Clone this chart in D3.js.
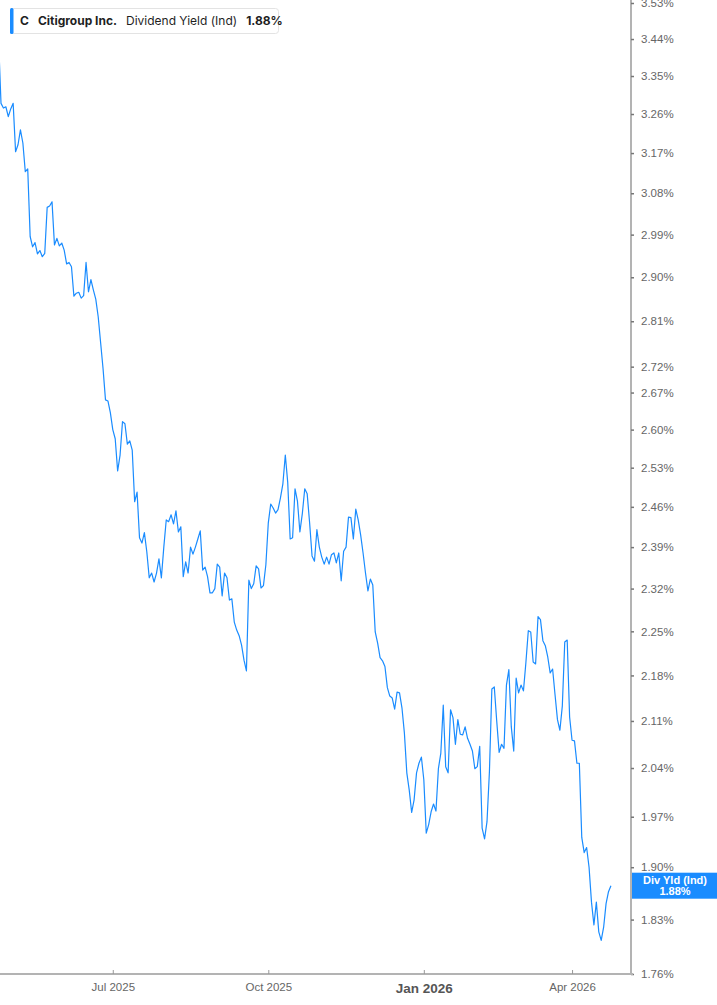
<!DOCTYPE html>
<html lang="en">
  <head>
    <meta charset="UTF-8" />
    <title>Citigroup Dividend Yield</title>
    <script src="https://d3js.org/d3.v7.min.js"></script>
    <style>
      body { margin: 0; background: #fff; }
    </style>
  </head>
  <body></body>
  <script>
    var ticker = "C";
    var company = "Citigroup Inc.";
    var metric = "Dividend Yield (Ind)";
    var badgeTitle = "Div Yld (Ind)";

    // trading days start here, weekends and these market holidays are skipped
    var startDate = "2025-04-23";
    var holidays = [
      "2025-05-26", "2025-06-19", "2025-07-04", "2025-09-01", "2025-11-27",
      "2025-12-25", "2026-01-01", "2026-01-19", "2026-02-16", "2026-04-03"
    ];

    // dividend yield (%) one value per trading day
    var yieldValues = [
      3.438,
      3.285, 3.274, 3.277, 3.254, 3.272, 3.285, 3.173, 3.189, 3.223, 3.193,
      3.128, 3.134, 2.986, 2.964, 2.973, 2.949, 2.956, 2.943, 2.950, 3.049,
      3.052, 3.061, 2.968, 2.982, 2.966, 2.972, 2.957, 2.928, 2.931, 2.922,
      2.861, 2.867, 2.869, 2.857, 2.862, 2.931, 2.870, 2.895, 2.874, 2.855,
      2.819, 2.767, 2.716, 2.656, 2.654, 2.632, 2.600, 2.583, 2.524, 2.553,
      2.615, 2.611, 2.573, 2.579, 2.562, 2.469, 2.486, 2.406, 2.397, 2.415,
      2.382, 2.338, 2.346, 2.331, 2.346, 2.370, 2.338, 2.390, 2.437, 2.434,
      2.446, 2.430, 2.453, 2.416, 2.425, 2.340, 2.365, 2.346, 2.390, 2.378,
      2.390, 2.404, 2.418, 2.351, 2.356, 2.340, 2.313, 2.313, 2.320, 2.361,
      2.356, 2.308, 2.346, 2.338, 2.301, 2.303, 2.265, 2.252, 2.243, 2.228,
      2.204, 2.187, 2.334, 2.320, 2.328, 2.358, 2.353, 2.321, 2.325, 2.360,
      2.432, 2.465, 2.458, 2.449, 2.455, 2.476, 2.501, 2.553, 2.503, 2.404,
      2.406, 2.492, 2.470, 2.416, 2.448, 2.492, 2.483, 2.432, 2.375, 2.366,
      2.420, 2.390, 2.373, 2.361, 2.373, 2.361, 2.377, 2.380, 2.363, 2.380,
      2.333, 2.383, 2.390, 2.442, 2.441, 2.404, 2.456, 2.437, 2.411, 2.380,
      2.346, 2.316, 2.336, 2.326, 2.249, 2.231, 2.208, 2.203, 2.194, 2.161,
      2.148, 2.145, 2.128, 2.154, 2.153, 2.130, 2.092, 2.033, 2.008, 1.976,
      1.994, 2.033, 2.047, 2.056, 2.023, 1.947, 1.959, 1.977, 1.988, 1.978,
      2.039, 2.062, 2.134, 2.042, 2.033, 2.127, 2.115, 2.075, 2.112, 2.090,
      2.089, 2.101, 2.084, 2.075, 2.065, 2.039, 2.042, 2.072, 1.954, 1.939,
      1.963, 2.035, 2.159, 2.162, 2.110, 2.063, 2.075, 2.069, 2.165, 2.189,
      2.101, 2.065, 2.176, 2.153, 2.165, 2.156, 2.200, 2.251, 2.249, 2.201,
      2.198, 2.274, 2.269, 2.235, 2.227, 2.209, 2.184, 2.190, 2.150, 2.112,
      2.096, 2.133, 2.233, 2.236, 2.116, 2.081, 2.080, 2.047, 2.047, 1.941,
      1.920, 1.927, 1.900, 1.853, 1.823, 1.853, 1.814, 1.803, 1.820, 1.851,
      1.867, 1.875
    ];

    var yTickValues = [
      3.53, 3.44, 3.35, 3.26, 3.17, 3.08, 2.99, 2.90, 2.81, 2.72, 2.67, 2.60,
      2.53, 2.46, 2.39, 2.32, 2.25, 2.18, 2.11, 2.04, 1.97, 1.90, 1.83, 1.76
    ];
    var xTickDates = ["2025-07-01", "2025-10-01", "2026-01-02", "2026-04-01"];
    var xTickLabels = ["Jul 2025", "Oct 2025", "Jan 2026", "Apr 2026"];

    var width = 717, height = 1005;
    var plotRight = 631, plotBottom = 974;
    var blue = "#1a8cff";

    // build trading calendar
    var fmt = d3.utcFormat("%Y-%m-%d");
    var tradingDays = [];
    var day = new Date(startDate + "T00:00:00Z");
    while (tradingDays.length < yieldValues.length) {
      var wd = day.getUTCDay();
      if (wd !== 0 && wd !== 6 && holidays.indexOf(fmt(day)) < 0) {
        tradingDays.push(fmt(day));
      }
      day = d3.utcDay.offset(day, 1);
    }
    var data = yieldValues.map((v, i) => ({ date: tradingDays[i], idx: i, value: v }));

    // month ticks sit on the first trading day of the month
    var tickIdx = xTickDates.map(d => tradingDays.indexOf(d));

    // x runs on trading-day index, first day is just left of the plot edge
    var x = d3.scaleLinear().domain([0.588, 260.26]).range([0, plotRight]);
    var y = d3.scaleLog().domain([1.76, 3.53]).range([plotBottom, 3]);

    var svg = d3
      .select("body")
      .append("svg")
      .attr("width", width)
      .attr("height", height)
      .style("font-family", "'Liberation Sans', Arial, sans-serif");

    svg
      .append("defs")
      .append("clipPath")
      .attr("id", "plot-clip")
      .append("rect")
      .attr("x", 0)
      .attr("y", 0)
      .attr("width", plotRight)
      .attr("height", plotBottom);

    var line = d3
      .line()
      .x(d => x(d.idx))
      .y(d => y(d.value));

    svg
      .append("path")
      .datum(data)
      .attr("clip-path", "url(#plot-clip)")
      .attr("fill", "none")
      .attr("stroke", blue)
      .attr("stroke-width", 1.2)
      .attr("stroke-linejoin", "round")
      .attr("d", line);

    // right axis
    var yAxis = svg
      .append("g")
      .attr("transform", `translate(${plotRight},0)`)
      .call(
        d3
          .axisRight(y)
          .tickValues(yTickValues)
          .tickFormat(d => d.toFixed(2) + "%")
          .tickSize(3)
          .tickSizeOuter(0)
          .tickPadding(7)
      );
    yAxis.select(".domain").attr("stroke", "#b3b3b3").attr("stroke-width", 2).attr("d", `M0,0V${plotBottom}`);
    yAxis.selectAll(".tick line").attr("stroke", "#777").attr("stroke-width", 1.5);
    yAxis.selectAll(".tick text").attr("fill", "#666").attr("font-size", 11.5);

    // bottom axis
    var xAxis = svg
      .append("g")
      .attr("transform", `translate(0,${plotBottom})`)
      .call(
        d3
          .axisBottom(x)
          .tickValues(tickIdx)
          .tickFormat((d, i) => xTickLabels[i])
          .tickSize(-4)
          .tickSizeOuter(0)
          .tickPadding(9)
      );
    xAxis.select(".domain").attr("stroke", "#b3b3b3").attr("stroke-width", 2).attr("d", `M0,0H${plotRight + 2}`);
    xAxis.selectAll(".tick line").attr("stroke", "#999");
    xAxis
      .selectAll(".tick text")
      .attr("fill", "#666")
      .attr("font-size", 11.5)
      .filter((d, i) => xTickLabels[i].indexOf("Jan") === 0)
      .attr("font-size", 13.5)
      .attr("font-weight", "bold")
      .attr("fill", "#555");

    // legend box
    var legend = svg.append("g").attr("transform", "translate(10,8)").style("font-family", "Inter, 'Liberation Sans', sans-serif");
    legend
      .append("rect")
      .attr("x", 0.5)
      .attr("y", 0.5)
      .attr("width", 268)
      .attr("height", 25)
      .attr("rx", 3)
      .attr("fill", "#fff")
      .attr("stroke", "#e3e3e3");
    legend
      .append("rect")
      .attr("x", 0)
      .attr("y", 0)
      .attr("width", 3.5)
      .attr("height", 26)
      .attr("rx", 1.5)
      .attr("fill", blue);
    var lt = legend
      .append("text")
      .attr("x", 10)
      .attr("y", 17)
      .attr("font-size", 12)
      .attr("fill", "#1f1f1f");
    lt.append("tspan").attr("font-weight", "bold").text(ticker);
    lt.append("tspan").attr("dx", 9).attr("font-weight", "bold").text(company);
    lt.append("tspan").attr("dx", 9).text(metric);
    lt.append("tspan")
      .attr("dx", 9)
      .attr("font-weight", "bold")
      .text(yieldValues[yieldValues.length - 1].toFixed(2) + "%");

    // last value badge
    var last = data[data.length - 1];
    var badge = svg.append("g").attr("transform", `translate(${plotRight + 1},${y(last.value) - 13})`);
    badge
      .append("rect")
      .attr("width", width - plotRight - 1)
      .attr("height", 26)
      .attr("fill", blue);
    badge
      .append("text")
      .attr("x", (width - plotRight) / 2)
      .attr("y", 11)
      .attr("text-anchor", "middle")
      .attr("fill", "#fff")
      .attr("font-weight", "bold")
      .attr("font-size", 11)
      .text(badgeTitle);
    badge
      .append("text")
      .attr("x", (width - plotRight) / 2)
      .attr("y", 22.5)
      .attr("text-anchor", "middle")
      .attr("fill", "#fff")
      .attr("font-weight", "bold")
      .attr("font-size", 11)
      .text(last.value.toFixed(2) + "%");
  </script>
</html>
